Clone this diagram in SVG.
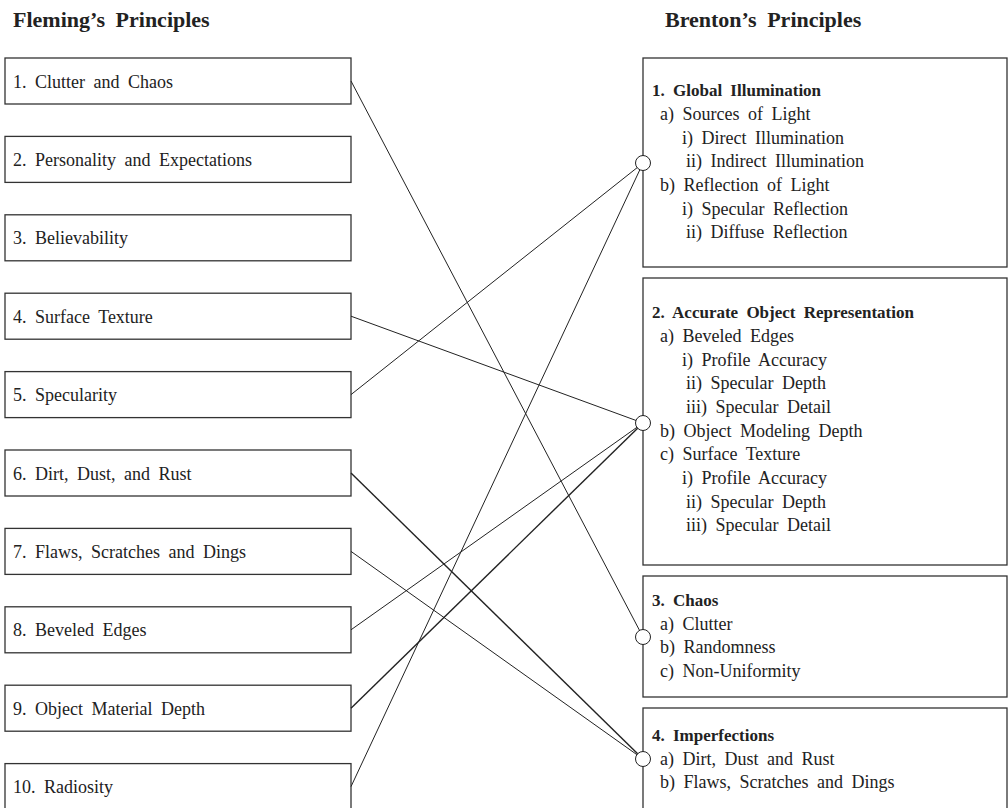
<svg xmlns="http://www.w3.org/2000/svg" width="1008" height="808" viewBox="0 0 1008 808">
<style>
.bg{fill:#fff}
.box{fill:#fff;stroke:#333;stroke-width:1.3}
.t{font-family:"Liberation Serif","Times New Roman",serif;font-size:18px;fill:#222;word-spacing:4px}
.tb{font-family:"Liberation Serif","Times New Roman",serif;font-size:17px;font-weight:bold;fill:#222;word-spacing:4px}
.h{font-family:"Liberation Serif","Times New Roman",serif;font-size:22px;font-weight:bold;fill:#222;word-spacing:5px}
.c{stroke:#222;stroke-width:1;fill:none}
.ck{stroke:#222;stroke-width:1.4;fill:none}
.port{fill:#fff;stroke:#222;stroke-width:1}
</style>
<rect class="bg" x="0" y="0" width="1008" height="808"/>
<text class="h" x="13" y="27">Fleming’s Principles</text>
<text class="h" x="665" y="27">Brenton’s Principles</text>

<g id="f1"><rect class="box" x="5" y="58" width="346" height="46"/><text class="t" x="13" y="87.5">1. Clutter and Chaos</text></g>
<g id="f2"><rect class="box" x="5" y="136.4" width="346" height="46"/><text class="t" x="13" y="165.9">2. Personality and Expectations</text></g>
<g id="f3"><rect class="box" x="5" y="214.8" width="346" height="46"/><text class="t" x="13" y="244.3">3. Believability</text></g>
<g id="f4"><rect class="box" x="5" y="293.2" width="346" height="46"/><text class="t" x="13" y="322.7">4. Surface Texture</text></g>
<g id="f5"><rect class="box" x="5" y="371.6" width="346" height="46"/><text class="t" x="13" y="401.1">5. Specularity</text></g>
<g id="f6"><rect class="box" x="5" y="450" width="346" height="46"/><text class="t" x="13" y="479.5">6. Dirt, Dust, and Rust</text></g>
<g id="f7"><rect class="box" x="5" y="528.4" width="346" height="46"/><text class="t" x="13" y="557.9">7. Flaws, Scratches and Dings</text></g>
<g id="f8"><rect class="box" x="5" y="606.8" width="346" height="46"/><text class="t" x="13" y="636.3">8. Beveled Edges</text></g>
<g id="f9"><rect class="box" x="5" y="685.2" width="346" height="46"/><text class="t" x="13" y="714.7">9. Object Material Depth</text></g>
<g id="f10"><rect class="box" x="5" y="763.6" width="346" height="46"/><text class="t" x="13" y="793.1">10. Radiosity</text></g>

<g id="b1"><rect class="box" x="643" y="58" width="364" height="209"/>
<text class="tb" x="652" y="96">1. Global Illumination</text>
<text class="t" x="660" y="120">a) Sources of Light</text>
<text class="t" x="682" y="143.5">i) Direct Illumination</text>
<text class="t" x="686" y="167">ii) Indirect Illumination</text>
<text class="t" x="660" y="191">b) Reflection of Light</text>
<text class="t" x="682" y="214.5">i) Specular Reflection</text>
<text class="t" x="686" y="238">ii) Diffuse Reflection</text>
</g>
<g id="b2"><rect class="box" x="643" y="278" width="364" height="287"/>
<text class="tb" x="652" y="318">2. Accurate Object Representation</text>
<text class="t" x="660" y="342">a) Beveled Edges</text>
<text class="t" x="682" y="365.5">i) Profile Accuracy</text>
<text class="t" x="686" y="389">ii) Specular Depth</text>
<text class="t" x="686" y="413">iii) Specular Detail</text>
<text class="t" x="660" y="436.5">b) Object Modeling Depth</text>
<text class="t" x="660" y="460">c) Surface Texture</text>
<text class="t" x="682" y="484">i) Profile Accuracy</text>
<text class="t" x="686" y="507.5">ii) Specular Depth</text>
<text class="t" x="686" y="531">iii) Specular Detail</text>
</g>
<g id="b3"><rect class="box" x="643" y="576" width="364" height="121"/>
<text class="tb" x="652" y="606">3. Chaos</text>
<text class="t" x="660" y="629.5">a) Clutter</text>
<text class="t" x="660" y="653">b) Randomness</text>
<text class="t" x="660" y="676.5">c) Non-Uniformity</text>
</g>
<g id="b4"><rect class="box" x="643" y="708" width="364" height="110"/>
<text class="tb" x="652" y="741">4. Imperfections</text>
<text class="t" x="660" y="764.5">a) Dirt, Dust and Rust</text>
<text class="t" x="660" y="788">b) Flaws, Scratches and Dings</text>
</g>

<g id="connectors">
<line class="c" x1="351" y1="81" x2="643" y2="637"/>
<line class="c" x1="351" y1="316.2" x2="643" y2="423"/>
<line class="c" x1="351" y1="394.6" x2="643" y2="163"/>
<line class="ck" x1="351" y1="473" x2="643" y2="759"/>
<line class="c" x1="351" y1="551.4" x2="643" y2="759"/>
<line class="c" x1="351" y1="629.8" x2="643" y2="423"/>
<line class="ck" x1="351" y1="708.2" x2="643" y2="423"/>
<line class="c" x1="351" y1="786.6" x2="643" y2="163"/>
<circle class="port" cx="643" cy="163" r="7.5"/>
<circle class="port" cx="643" cy="423" r="7.5"/>
<circle class="port" cx="643" cy="637" r="7.5"/>
<circle class="port" cx="643" cy="759" r="7.5"/>
</g>
</svg>
